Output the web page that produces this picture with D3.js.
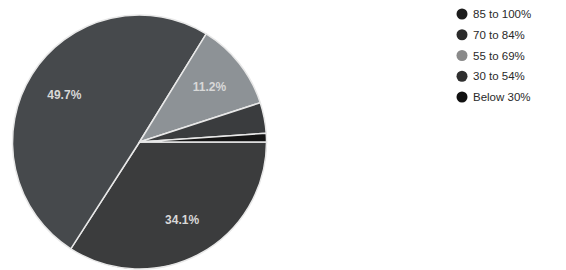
<!DOCTYPE html>
<html>
<head>
<meta charset="utf-8">
<script src="https://cdn.jsdelivr.net/npm/d3@7"></script>
<style>
  body { margin: 0; background: #fff; }
  svg { display: block; }
</style>
</head>
<body>
<div id="chart"></div>
<script>
// legend categories and their pie shares (percent)
var categories = ["85 to 100%", "70 to 84%", "55 to 69%", "30 to 54%", "Below 30%"];
var shares = [34.1, 49.7, 11.2, 3.9, 1.1];
var shownLabels = ["34.1%", "49.7%", "11.2%", "", ""];
var sliceColors = ["#3b3c3d", "#46494c", "#8d9296", "#3a3c3e", "#151515"];
var legendColors = ["#1c1c1c", "#2b2b2b", "#8a8a8a", "#2f2f2f", "#111111"];

var w = 566, h = 270;
var cx = 139.5, cy = 142, r = 127;

var svg = d3.select("#chart").append("svg")
    .attr("width", w)
    .attr("height", h);

var data = categories.map(function(c, i) {
    return {name: c, value: shares[i], label: shownLabels[i], i: i};
});

// slices start at 3 o'clock and run clockwise
var pie = d3.pie()
    .value(function(d) { return d.value; })
    .sort(null)
    .startAngle(Math.PI / 2)
    .endAngle(Math.PI / 2 + 2 * Math.PI);

var arc = d3.arc().innerRadius(0).outerRadius(r);
var labelArc = d3.arc().innerRadius(r * 0.7).outerRadius(r * 0.7);

var g = svg.append("g").attr("transform", "translate(" + cx + "," + cy + ")");

var arcs = pie(data);

g.selectAll("path")
    .data(arcs)
    .enter().append("path")
    .attr("d", arc)
    .style("fill", function(d) { return sliceColors[d.data.i]; })
    .style("stroke", "#e8e8e8")
    .style("stroke-width", 1.5);

g.selectAll("text.lab")
    .data(arcs.filter(function(d) { return d.data.label; }))
    .enter().append("text")
    .attr("class", "lab")
    .attr("transform", function(d) { return "translate(" + labelArc.centroid(d) + ")"; })
    .attr("text-anchor", "middle")
    .attr("dy", "0.35em")
    .style("font-family", "Liberation Sans, Arial, sans-serif")
    .style("font-size", "12px")
    .style("font-weight", "bold")
    .style("fill", "#d8d8d8")
    .text(function(d) { return d.data.label; });

// legend
var legendY = d3.scalePoint()
    .domain(categories)
    .range([14, 97]);

var lg = svg.append("g");
var rows = lg.selectAll("g")
    .data(categories)
    .enter().append("g")
    .attr("transform", function(d) { return "translate(462," + legendY(d) + ")"; });

rows.append("circle")
    .attr("r", 5.5)
    .style("fill", function(d, i) { return legendColors[i]; });

rows.append("text")
    .attr("x", 11)
    .attr("dy", "0.35em")
    .style("font-family", "Liberation Sans, Arial, sans-serif")
    .style("font-size", "11.5px")
    .style("fill", "#2a2a2a")
    .text(function(d) { return d; });
</script>
</body>
</html>
